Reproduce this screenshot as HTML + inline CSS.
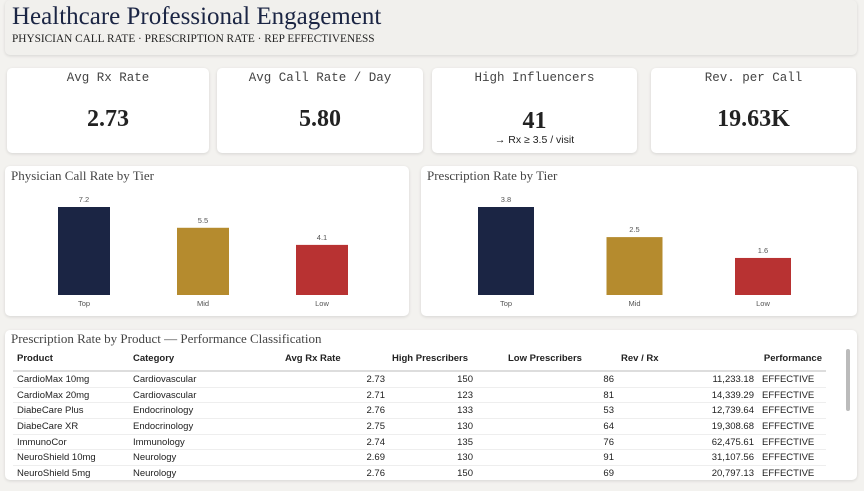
<!DOCTYPE html>
<html><head><meta charset="utf-8"><style>
body{margin:0;width:864px;height:491px;background:#f3f2ef;position:relative;overflow:hidden;font-family:"Liberation Sans",sans-serif}
.card{position:absolute;background:#fff;border-radius:5px;box-shadow:0 1px 3px rgba(0,0,0,.12)}
.kt{position:absolute;top:3px;left:0;right:0;text-align:center;font-family:"Liberation Mono",monospace;font-size:12.5px;color:#444}
.kv{position:absolute;top:38px;left:0;right:0;text-align:center;font-family:"Liberation Serif",serif;font-weight:bold;font-size:24px;color:#222}
.ct{position:absolute;left:6px;top:2px;font-family:"Liberation Serif",serif;font-size:13px;color:#444}
table{position:absolute;left:8px;top:17px;width:813px;border-collapse:collapse;table-layout:fixed;font-size:9.5px;color:#222}
th{font-weight:bold;text-align:left;height:23px;padding:0 4px;border-bottom:2px solid #ddd}
td{height:14.7px;padding:0 4px;border-bottom:1px solid #eee;white-space:nowrap}
.r{text-align:right}
</style></head><body>
<div class="card" style="left:5px;top:0;width:852px;height:55px;background:#f1f0ed">
<div style="position:absolute;left:7px;top:3px;font-family:'Liberation Serif',serif;font-size:25px;color:#1b2544">Healthcare Professional Engagement</div>
<div style="position:absolute;left:7px;top:33px;font-family:'Liberation Serif',serif;font-size:11.3px;color:#222">PHYSICIAN CALL RATE · PRESCRIPTION RATE · REP EFFECTIVENESS</div>
</div>
<div class="card" style="left:7px;top:68px;width:202px;height:85px"><div class="kt">Avg Rx Rate</div><div class="kv">2.73</div></div>
<div class="card" style="left:217px;top:68px;width:206px;height:85px"><div class="kt">Avg Call Rate / Day</div><div class="kv">5.80</div></div>
<div class="card" style="left:432px;top:68px;width:205px;height:85px"><div class="kt">High Influencers</div><div class="kv" style="top:40px">41</div><div style="position:absolute;top:66px;left:0;right:0;text-align:center;font-size:10.5px;color:#222">→ Rx ≥ 3.5 / visit</div></div>
<div class="card" style="left:651px;top:68px;width:205px;height:85px"><div class="kt">Rev. per Call</div><div class="kv">19.63K</div></div>

<div class="card" style="left:5px;top:166px;width:404px;height:150px"><div class="ct">Physician Call Rate by Tier</div><svg id="c1" width="404" height="150" style="position:absolute;left:0;top:0"></svg></div>
<div class="card" style="left:421px;top:166px;width:436px;height:150px"><div class="ct">Prescription Rate by Tier</div><svg id="c2" width="436" height="150" style="position:absolute;left:0;top:0"></svg></div>

<div class="card" style="left:5px;top:330px;width:852px;height:150px;overflow:hidden">
<div class="ct" style="top:1px">Prescription Rate by Product — Performance Classification</div>
<table><colgroup><col style="width:116px"><col style="width:152px"><col style="width:108px"><col style="width:88px"><col style="width:141px"><col style="width:140px"><col style="width:68px"></colgroup><thead><tr><th>Product</th><th>Category</th><th>Avg Rx Rate</th><th style="padding-left:3px">High Prescribers</th><th style="padding-left:31px">Low Prescribers</th><th style="padding-left:3px">Rev / Rx</th><th class="r">Performance</th></tr></thead><tbody id="tb"></tbody></table>
<div style="position:absolute;left:841px;top:19px;width:4px;height:62px;background:#bbb;border-radius:2px"></div>
</div>
<script>
const tiers=["Top","Mid","Low"];
const callRate=[7.2,5.5,4.1];
const rxRate=[3.8,2.5,1.6];
const colors=["#1b2544","#b58b2e","#b83232"];
const NS="http://www.w3.org/2000/svg";
function draw(id,vals,max,x0,step,bw,name){
 const s=document.getElementById(id);const base=129,h=88;
 vals.forEach((v,i)=>{const x=x0+i*step,y=base-v/max*h;
  const r=document.createElementNS(NS,"rect");r.setAttribute("x",x);r.setAttribute("y",y);r.setAttribute("width",bw);r.setAttribute("height",base-y);r.setAttribute("fill",colors[i]);
  
  s.appendChild(r);
  const t=document.createElementNS(NS,"text");t.setAttribute("x",x+bw/2);t.setAttribute("y",y-5);t.setAttribute("text-anchor","middle");t.setAttribute("font-size","7.5");t.setAttribute("fill","#555");t.textContent=v.toFixed(1);
  
  s.appendChild(t);
  const l=document.createElementNS(NS,"text");l.setAttribute("x",x+bw/2);l.setAttribute("y",140);l.setAttribute("text-anchor","middle");l.setAttribute("font-size","7.5");l.setAttribute("fill","#555");l.textContent=tiers[i];
  
  s.appendChild(l);});
}
draw("c1",callRate,7.2,53,119,52,"call-rate");
draw("c2",rxRate,3.8,57,128.5,56,"rx-rate");
const products=["CardioMax 10mg","CardioMax 20mg","DiabeCare Plus","DiabeCare XR","ImmunoCor","NeuroShield 10mg","NeuroShield 5mg"];
const categories=["Cardiovascular","Cardiovascular","Endocrinology","Endocrinology","Immunology","Neurology","Neurology"];
const avgRx=[2.73,2.71,2.76,2.75,2.74,2.69,2.76];
const highP=[150,123,133,130,135,130,150];
const lowP=[86,81,53,64,76,91,69];
const revRx=["11,233.18","14,339.29","12,739.64","19,308.68","62,475.61","31,107.56","20,797.13"];
const tb=document.getElementById("tb");
products.forEach((p,i)=>{const tr=document.createElement("tr");
 
 
 tr.innerHTML=`<td>${p}</td><td>${categories[i]}</td><td class="r">${avgRx[i].toFixed(2)}</td><td class="r">${highP[i]}</td><td class="r">${lowP[i]}</td><td class="r">${revRx[i]}</td><td>EFFECTIVE</td>`;tb.appendChild(tr);});
</script>
</body></html>
